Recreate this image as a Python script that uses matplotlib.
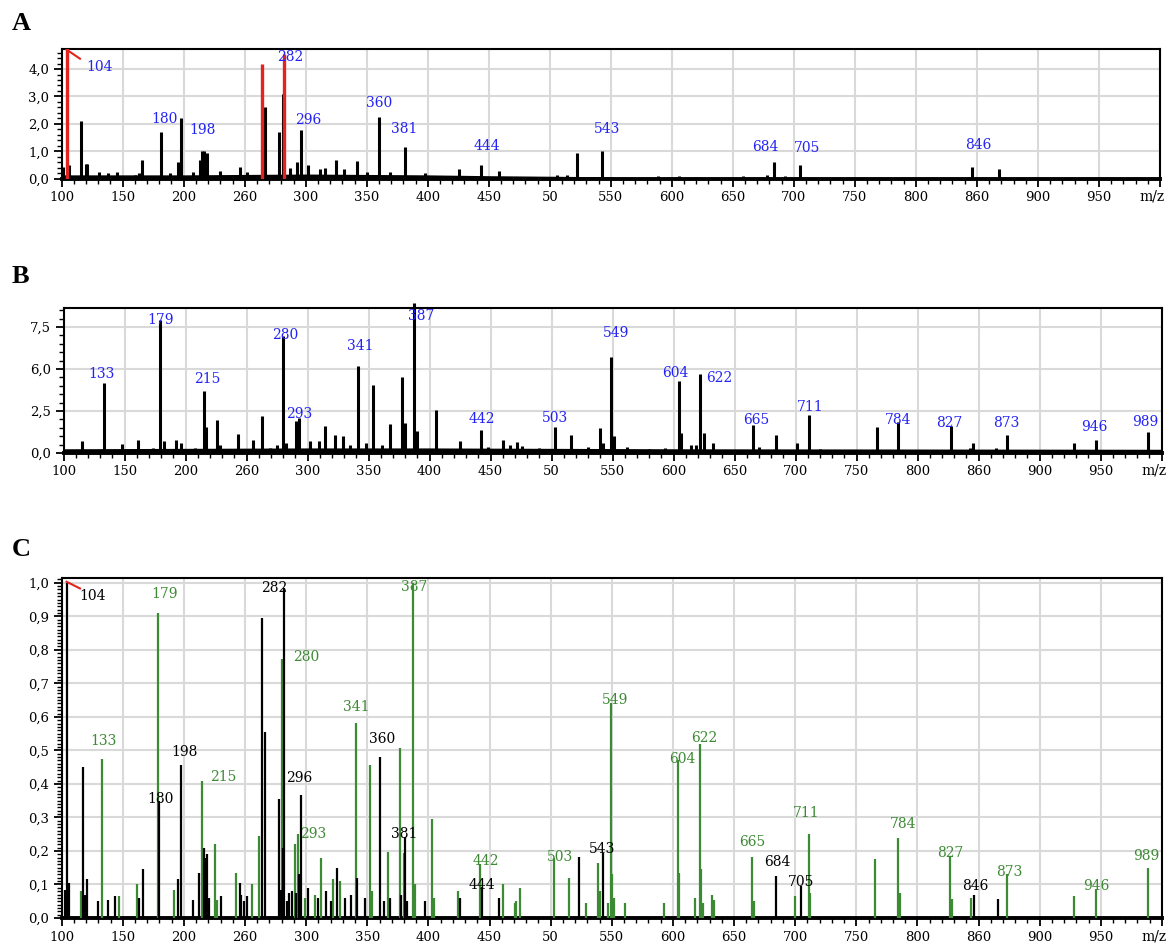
import matplotlib
matplotlib.use("Agg")
import matplotlib.pyplot as plt
from matplotlib.ticker import MultipleLocator
import numpy as np

# ---- panel A : sample spectrum (black) with clipped peaks (red) ----
a_mz = [101, 106, 116, 120, 121, 131, 138, 145, 160, 163, 166, 181, 189, 195, 198,
        208, 213, 215, 217, 219, 230, 246, 252, 267, 278, 281, 281.6, 287, 293, 296,
        302, 312, 316, 325, 331, 342, 350, 360, 369, 381, 398, 426, 444, 458, 506,
        514, 522, 543, 589, 606, 620, 658, 678, 684, 693, 705, 760, 846, 868]
a_h = [0.45, 0.5, 2.12, 0.55, 0.55, 0.25, 0.22, 0.25, 0.15, 0.2, 0.7, 1.7, 0.2, 0.6, 2.2,
       0.25, 0.7, 1.0, 1.0, 0.95, 0.3, 0.45, 0.25, 2.63, 1.7, 1.05, 3.1, 0.4, 0.6, 1.78,
       0.5, 0.35, 0.4, 0.7, 0.35, 0.65, 0.25, 2.27, 0.25, 1.15, 0.2, 0.35, 0.5, 0.3, 0.15,
       0.15, 0.93, 1.0, 0.1, 0.1, 0.08, 0.1, 0.15, 0.63, 0.1, 0.5, 0.05, 0.45, 0.35]
a_red_mz = [104, 264, 282]
a_red_h = [5.2, 4.17, 4.55]
a_base_mz = [100, 200, 300, 400, 450, 550, 560, 1000]
a_base_h = [0.15, 0.15, 0.18, 0.15, 0.12, 0.08, 0.03, 0.02]
a_labels = [104, 180, 198, 282, 296, 360, 381, 444, 543, 684, 705, 846]
a_label_off = [(33, -18), (4, 13), (21, -12), (6, -3), (7, 10), (0, 14), (0, 18),
               (5, 19), (5, 22), (-9, 15), (7, 17), (6, 22)]

# ---- panel B : second sample spectrum ----
b_mz = [115, 133, 148, 161, 173, 179, 182, 192, 196, 208, 215, 217, 225.5, 228, 243,
        255.5, 263, 269, 275, 280, 282, 290.5, 293, 302, 309, 314, 322.5, 329, 335, 341,
        348, 354, 361, 367.5, 377.5, 380, 387, 389.5, 405, 425, 442, 448, 460, 466, 471.5,
        476, 490, 503, 516, 530, 540, 542.5, 549, 551, 562, 580, 593, 604, 606, 614, 618.5,
        622, 624.5, 632.5, 650, 665, 670, 684, 701.5, 711, 720, 745, 761, 767, 784, 796,
        810, 827, 842.5, 845.5, 864, 873, 890, 922.5, 928.5, 946, 960, 981, 989]
b_h = [0.7, 4.17, 0.55, 0.8, 0.3, 7.94, 0.7, 0.75, 0.6, 0.3, 3.67, 1.55, 1.95, 0.5, 1.15,
       0.8, 2.18, 0.3, 0.45, 6.94, 0.6, 1.9, 2.1, 0.7, 0.7, 1.6, 1.05, 1.0, 0.5, 5.2,
       0.6, 4.05, 0.45, 1.75, 4.52, 1.8, 8.93, 1.3, 2.58, 0.7, 1.35, 0.35, 0.8, 0.45, 0.65,
       0.4, 0.3, 1.53, 1.05, 0.35, 1.47, 0.6, 5.71, 1.0, 0.35, 0.25, 0.3, 4.27, 1.2, 0.5, 0.5,
       4.7, 1.2, 0.6, 0.2, 1.69, 0.35, 1.07, 0.6, 2.24, 0.25, 0.2, 0.2, 1.55, 1.83, 0.2,
       0.2, 1.59, 0.3, 0.6, 0.3, 1.05, 0.2, 0.2, 0.6, 0.8, 0.2, 0.15, 1.25]
b_base_mz = [100, 300, 400, 600, 1000]
b_base_h = [0.25, 0.3, 0.3, 0.25, 0.22]
b_labels = [133, 179, 215, 280, 293, 341, 387, 442, 503, 549, 604, 622, 665, 711, 784,
            827, 873, 946, 989]
b_label_off = [(-2, 9), (1, 0), (3, 12), (2, 1), (0, 4), (3, 20), (7, -13), (1, 11), (0, 9),
               (5, 24), (-3, 8), (19, -4), (3, 5), (1, 8), (0, 2), (-1, 3), (0, 12), (-1, 13),
               (-3, 10)]

# ---- panel C : normalised overlay (black = A, green = B) ----
c_black_mz = [102.7, 104, 106, 117.2, 119, 120.4, 130, 137.8, 144, 163, 166.2, 180, 194.8,
              198, 207.6, 212.5, 216.3, 217.7, 219, 220.4, 230, 245.7, 247.1, 249.2, 252,
              263.5, 266.7, 277.6, 279.2, 281.4, 282, 284.7, 286, 288.8, 292, 293.9, 296,
              301.6, 309.8, 316, 320.7, 325.3, 331.5, 336.5, 341.3, 347.9, 360, 363.4, 368.3,
              377.9, 381, 382.2, 397, 425.6, 444, 457.5, 522.8, 543, 684, 705, 846, 866.1]
c_black_h = [0.085, 1.0, 0.105, 0.45, 0.07, 0.115, 0.05, 0.055, 0.065, 0.06, 0.145, 0.35,
             0.115, 0.457, 0.055, 0.135, 0.21, 0.18, 0.19, 0.06, 0.065, 0.105, 0.07, 0.05,
             0.065, 0.894, 0.556, 0.355, 0.085, 0.21, 0.983, 0.05, 0.075, 0.08, 0.075, 0.13,
             0.367, 0.09, 0.06, 0.08, 0.05, 0.148, 0.06, 0.07, 0.12, 0.06, 0.479, 0.05, 0.06,
             0.07, 0.242, 0.05, 0.05, 0.06, 0.093, 0.06, 0.183, 0.194, 0.126, 0.096, 0.069,
             0.058]
c_green_mz = [115.5, 133, 147, 161.3, 179, 191.8, 215, 225.3, 227.2, 242.7, 255.3, 261.6,
              280, 290.7, 293, 298.9, 307.6, 312.5, 322, 328, 341, 352.5, 353.9, 367, 376.5,
              379.8, 387, 388.8, 403.2, 404.6, 424.2, 442, 461, 470.5, 471.9, 475.2, 503,
              514.7, 529.1, 538.6, 540, 546.8, 549, 550.3, 551.5, 561, 592.5, 604, 605.2,
              617.8, 622, 623.2, 624.3, 632, 633.3, 665, 666.2, 700, 711, 712.4, 765.6, 784,
              785.4, 827, 828.4, 843.7, 873, 928.2, 946, 989]
c_green_h = [0.08, 0.475, 0.065, 0.1, 0.91, 0.085, 0.41, 0.22, 0.055, 0.135, 0.1, 0.245,
             0.773, 0.22, 0.25, 0.06, 0.07, 0.18, 0.115, 0.11, 0.583, 0.457, 0.08, 0.196,
             0.508, 0.195, 1.0, 0.1, 0.295, 0.06, 0.08, 0.16, 0.1, 0.045, 0.05, 0.09, 0.178,
             0.12, 0.045, 0.163, 0.08, 0.045, 0.642, 0.13, 0.06, 0.045, 0.045, 0.472, 0.135,
             0.06, 0.518, 0.145, 0.045, 0.07, 0.055, 0.183, 0.05, 0.065, 0.252, 0.075, 0.176,
             0.24, 0.075, 0.183, 0.058, 0.06, 0.13, 0.065, 0.086, 0.148]
c_black_labels = [104, 180, 198, 282, 296, 360, 381, 444, 543, 684, 705, 846]
c_black_off = [(26, -13), (1, 2), (3, 13), (-10, 0), (-2, 17), (3, 18), (-1, 3), (0, 2),
               (-1, 4), (2, 14), (0, 4), (2, 9)]
c_green_labels = [133, 179, 215, 280, 293, 341, 387, 442, 503, 549, 604, 622, 665, 711,
                  784, 827, 873, 946, 989]
c_green_off = [(1, 18), (6, 19), (21, 4), (24, 2), (16, 0), (0, 16), (2, -4), (6, 3), (6, 1),
               (4, 3), (5, 1), (4, 6), (0, 15), (-2, 21), (5, 14), (0, 4), (3, 2), (0, 3),
               (-2, 12)]

x_ticks = list(range(100, 1001, 50))
x_ticklabels = ["100", "150", "200", "260", "300", "350", "400", "450", "50", "550",
                "600", "650", "700", "750", "800", "860", "900", "950", ""]
x_unit = "m/z"

BLUE = "#2323f5"
GREEN = "#3d8a34"
RED = "#e3231d"
GRID = "#d9d9d9"
SERIF = "DejaVu Serif"


def style_axes(ax, ymax, ymajor, yminor, yticklabels):
    ax.set_xlim(100, 1000)
    ax.set_ylim(0, ymax)
    ax.set_xticks(x_ticks)
    ax.set_xticklabels(x_ticklabels, fontfamily=SERIF, fontsize=9.5)
    ax.xaxis.set_minor_locator(MultipleLocator(10))
    yt = np.arange(len(yticklabels)) * ymajor
    ax.set_yticks(yt)
    ax.set_yticklabels(yticklabels, fontfamily=SERIF, fontsize=9.5)
    ax.yaxis.set_minor_locator(MultipleLocator(yminor))
    ax.grid(True, which="major", color=GRID, lw=1.5, zorder=0)
    ax.set_axisbelow(True)
    ax.tick_params(which="major", direction="out", length=6, width=1.3, pad=3)
    ax.tick_params(which="minor", direction="out", length=3.5, width=1.0)
    for s in ["top", "right", "left"]:
        ax.spines[s].set_linewidth(1.5)
    ax.spines["bottom"].set_linewidth(2.8)
    # unit written where the 1000 tick label would be, pulled in a little
    ax.annotate(x_unit, xy=(1, 0), xycoords="axes fraction", xytext=(-8, -18),
                textcoords="offset pixels", ha="center", va="center",
                fontfamily=SERIF, fontsize=10, annotation_clip=False)


def label_peaks(ax, labels, offsets, mz, h, color, ymax):
    mz = np.asarray(mz)
    h = np.asarray(h)
    for lab, (dx, dy) in zip(labels, offsets):
        i = np.argmin(np.abs(mz - lab))
        y = min(h[i], ymax)
        ax.annotate(str(lab), xy=(mz[i], y), xytext=(dx, dy), textcoords="offset pixels",
                    ha="center", va="center", color=color, fontsize=10,
                    fontfamily=SERIF, annotation_clip=False, zorder=6)


fig = plt.figure(figsize=(11.7, 9.52), dpi=100)

# panel A
axA = fig.add_axes([0.0527, 0.8120, 0.9387, 0.1366])
A_MAX = 4.73
style_axes(axA, A_MAX, 1.0, 0.2, ["0,0", "1,0", "2,0", "3,0", "4,0"])
axA.fill_between(a_base_mz, 0, a_base_h, color="black", lw=0, zorder=3)
axA.vlines(a_mz, 0, a_h, color="black", lw=2.2, zorder=3)
axA.vlines(a_red_mz, 0, a_red_h, color=RED, lw=2.4, zorder=4)
axA.plot([a_red_mz[0], a_red_mz[0] + 11], [A_MAX * 0.995, A_MAX * 0.925], color=RED, lw=1.5,
         zorder=5)
label_peaks(axA, a_labels, a_label_off, a_mz + a_red_mz, a_h + a_red_h, BLUE, A_MAX)
fig.text(0.010, 0.975, "A", fontsize=19, fontweight="bold", fontfamily="Liberation Serif",
         va="center")

# panel B
axB = fig.add_axes([0.0543, 0.5242, 0.9386, 0.1523])
B_MAX = 8.63
style_axes(axB, B_MAX, 2.5, 0.5, ["0,0", "2,5", "6,0", "7,5"])
axB.fill_between(b_base_mz, 0, b_base_h, color="black", lw=0, zorder=3)
axB.vlines(b_mz, 0, b_h, color="black", lw=2.2, zorder=3, clip_on=False)
label_peaks(axB, b_labels, b_label_off, b_mz, b_h, BLUE, 8.93)
fig.text(0.010, 0.710, "B", fontsize=19, fontweight="bold", fontfamily="Liberation Serif",
         va="center")

# panel C
axC = fig.add_axes([0.0527, 0.0357, 0.9404, 0.3571])
C_MAX = 1.014
style_axes(axC, C_MAX, 0.1, 0.01,
           ["0,0", "0,1", "0,2", "0,3", "0,4", "0,5", "0,6", "0,7", "0,8", "0,9", "1,0"])
axC.vlines(c_green_mz, 0, c_green_h, color=GREEN, lw=1.6, zorder=3)
axC.vlines(c_black_mz, 0, c_black_h, color="black", lw=1.6, zorder=4)
axC.plot([c_black_mz[1], c_black_mz[1] + 11], [1.003, 0.983], color=RED, lw=1.5, zorder=5)
label_peaks(axC, c_black_labels, c_black_off, c_black_mz, c_black_h, "black", C_MAX)
label_peaks(axC, c_green_labels, c_green_off, c_green_mz, c_green_h, GREEN, C_MAX)
fig.text(0.010, 0.4233, "C", fontsize=19, fontweight="bold", fontfamily="Liberation Serif",
         va="center")

fig.savefig("out.png", dpi=100)
